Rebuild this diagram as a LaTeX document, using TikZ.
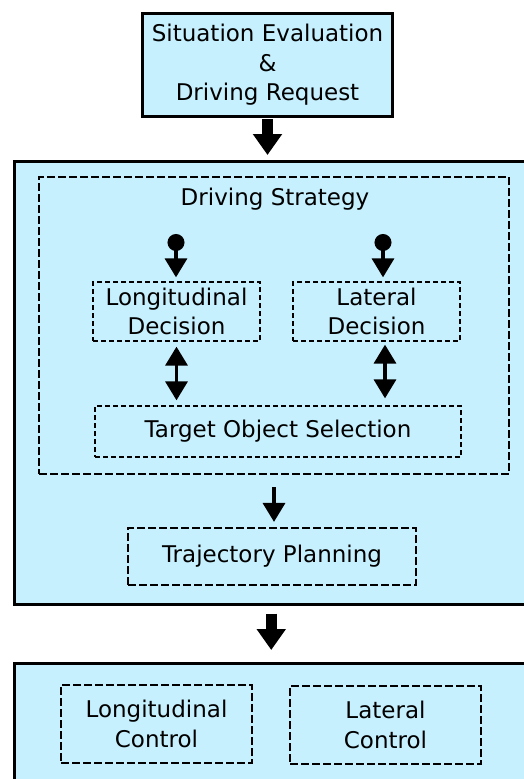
\documentclass[tikz,border=0pt]{standalone}
\usepackage{fontspec}
\setmainfont{DejaVu Sans}
\usetikzlibrary{arrows.meta}
\definecolor{boxblue}{RGB}{198,240,254}

\begin{document}
\begin{tikzpicture}[x=1pt, y=-1pt, font=\fontsize{23}{29.5}\selectfont,
  block/.style = {draw, line width=3pt, fill=boxblue, inner sep=0pt, align=center},
  part/.style = {draw, dash pattern=on 5pt off 3pt, line width=1.3pt, inner sep=0pt, align=center},
  group/.style = {draw, dash pattern=on 8pt off 3pt, line width=2.2pt, inner sep=0pt, align=center},
  bigarrow/.style = {line width=11pt, -{Triangle[width=28pt,length=21pt]}},
  smallarrow/.style = {line width=3.5pt, -{Triangle[width=22pt,length=19pt]}},
  duoarrow/.style = {line width=3.5pt, {Triangle[width=22pt,length=19pt]}-{Triangle[width=22pt,length=19pt]}},
  dotarrow/.style = {line width=3.5pt, {Circle[length=17pt]}-{Triangle[width=22pt,length=19pt]}}]
\useasboundingbox (0,0) rectangle (524,779);
\clip (0,0) rectangle (524,779);
\node[block, minimum width=250pt, minimum height=103pt] (situation) at (267.5,65) {Situation Evaluation\\\&\\Driving Request};
\node[block, minimum width=525.5pt, minimum height=442.5pt] (behav) at (277.25,382.75) {};
\node[block, minimum width=525.5pt, minimum height=136.5pt] (control) at (277.25,731.75) {};
\node[group, minimum width=470pt, minimum height=297pt] (strategy) at (274,325.5) {};
\node (stratlabel) at (275,199) {Driving Strategy};
\node[part, minimum width=167pt, minimum height=59pt] (long) at (176.5,311.5) {Longitudinal\\Decision};
\node[part, minimum width=167pt, minimum height=59pt] (lat) at (376.5,311.5) {Lateral\\Decision};
\node[part, minimum width=366pt, minimum height=51pt] (target) at (278,431.5) {Target Object Selection};
\node[group, minimum width=288pt, minimum height=57pt] (traj) at (272,556.5) {Trajectory Planning};
\node[group, minimum width=191pt, minimum height=78pt] (longctrl) at (156.5,724) {Longitudinal\\Control};
\node[group, minimum width=191pt, minimum height=78pt] (latctrl) at (385.5,725) {Lateral\\Control};
\coordinate (ldot) at (176,234);
\coordinate (rdot) at (383,234);
\draw[bigarrow, shorten <=1pt, shorten >=5pt] (situation.south) -- (situation.south |- behav.north);
\draw[bigarrow, shorten <=8pt, shorten >=12pt] ([xshift=-6pt]behav.south) -- ([xshift=-6pt]behav.south |- control.north);
\draw[dotarrow, shorten >=4pt] (ldot) -- (ldot |- long.north);
\draw[dotarrow, shorten >=4pt] (rdot) -- (rdot |- lat.north);
\draw[duoarrow, shorten <=5pt, shorten >=5pt] (long.south) -- (long.south |- target.north);
\draw[duoarrow, shorten <=3pt, shorten >=7pt] ([xshift=8.5pt]lat.south) -- ([xshift=8.5pt]lat.south |- target.north);
\draw[smallarrow, shorten <=12pt, shorten >=5pt] (strategy.south) -- (strategy.south |- traj.north);
\end{tikzpicture}
\end{document}
